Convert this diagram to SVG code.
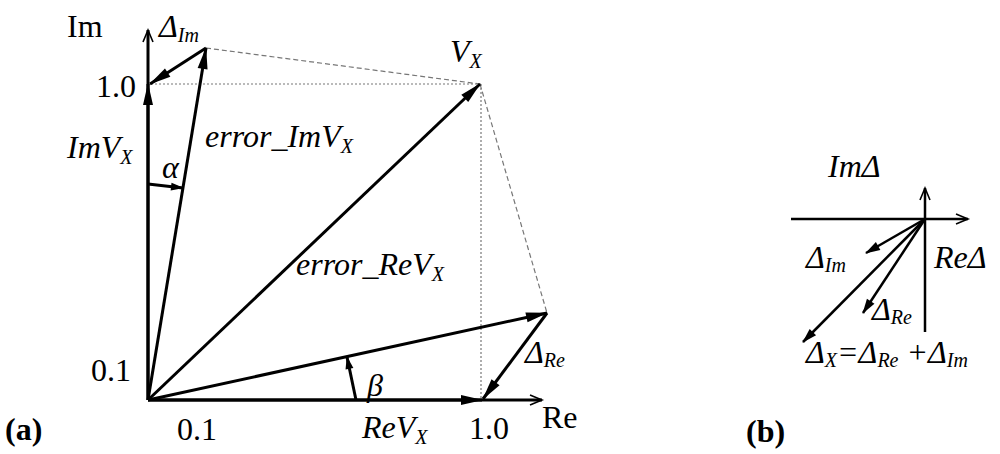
<svg xmlns="http://www.w3.org/2000/svg" width="1000" height="454" viewBox="0 0 1000 454">
<style>
.v{stroke:#000;stroke-width:3;fill:none}
.vb{stroke:#000;stroke-width:2.5;fill:none}
.dot{stroke:#777;stroke-width:1.2;stroke-dasharray:2 2;fill:none}
.dash{stroke:#777;stroke-width:1.2;stroke-dasharray:5 3;fill:none}
</style>
<defs>
<marker id="ah" markerUnits="userSpaceOnUse" markerWidth="24" markerHeight="12" refX="21" refY="5" orient="auto" overflow="visible"><path d="M0,0 L22,5 L0,10 z" fill="#000"/></marker>
<marker id="ahs" markerUnits="userSpaceOnUse" markerWidth="14" markerHeight="10" refX="12" refY="4" orient="auto" overflow="visible"><path d="M0,0 L13,4 L0,8 z" fill="#000"/></marker>
<marker id="ahb" markerUnits="userSpaceOnUse" markerWidth="16" markerHeight="10" refX="14" refY="4.5" orient="auto" overflow="visible"><path d="M0,0 L15,4.5 L0,9 z" fill="#000"/></marker>
<marker id="op" markerUnits="userSpaceOnUse" markerWidth="14" markerHeight="12" refX="12" refY="5" orient="auto" overflow="visible"><path d="M0,0 L12,5 L0,10" fill="none" stroke="#000" stroke-width="1.6"/></marker>
</defs>

<g id="guides">
<line class="dot" x1="151" y1="84" x2="480" y2="84"/>
<line class="dot" x1="481" y1="84" x2="481" y2="400"/>
<line class="dash" x1="206" y1="48" x2="480" y2="84"/>
<line class="dash" x1="480" y1="84" x2="547" y2="313"/>
</g>

<g id="connectors">
<line id="im-axis" class="v" x1="148" y1="400" x2="148" y2="30" marker-end="url(#op)"/>
<line id="re-axis" class="v" x1="148" y1="400" x2="542" y2="400" marker-end="url(#op)"/>
<line id="imvx" class="v" x1="148" y1="400" x2="148" y2="84" marker-end="url(#ah)"/>
<line id="revx" class="v" x1="148" y1="400" x2="482" y2="400" marker-end="url(#ah)"/>
<line id="delta-im" class="v" x1="206" y1="48" x2="150" y2="84" marker-end="url(#ah)"/>
<line id="err-im" class="v" x1="148" y1="400" x2="206" y2="48" marker-end="url(#ah)"/>
<line id="vx" class="v" x1="148" y1="400" x2="480" y2="84" marker-end="url(#ah)"/>
<line id="err-re" class="v" x1="148" y1="400" x2="547" y2="313" marker-end="url(#ah)"/>
<line id="delta-re" class="v" x1="547" y1="313" x2="483" y2="399" marker-end="url(#ah)"/>
<line id="alpha" class="v" x1="148" y1="184" x2="183" y2="188" marker-end="url(#ahs)"/>
<line id="beta" class="v" x1="356" y1="400" x2="347" y2="357" marker-end="url(#ahs)"/>
<line id="b-re-axis" class="vb" x1="791" y1="219" x2="968" y2="219" marker-end="url(#op)"/>
<line id="b-im-axis" class="vb" x1="925" y1="332" x2="925" y2="188" marker-end="url(#op)"/>
<line id="b-dim" class="vb" x1="925" y1="219" x2="866" y2="253" marker-end="url(#ahb)"/>
<line id="b-dre" class="vb" x1="925" y1="219" x2="863" y2="313" marker-end="url(#ahb)"/>
<line id="b-dx" class="vb" x1="925" y1="219" x2="803" y2="342" marker-end="url(#ahb)"/>
</g>

<g id="labels-a" font-family="Liberation Serif, Times New Roman, serif" font-size="32" fill="#000">
<text x="67" y="37">Im</text>
<text font-style="italic" x="159" y="37">Δ<tspan font-size="20" dy="5">Im</tspan></text>
<text x="96" y="97">1.0</text>
<text font-style="italic" x="67" y="158">ImV<tspan font-size="20" dy="6">X</tspan></text>
<text font-style="italic" x="162" y="178">α</text>
<text font-style="italic" x="205" y="147">error_ImV<tspan font-size="20" dy="6">X</tspan></text>
<text font-style="italic" x="450" y="62">V<tspan font-size="20" dy="6">X</tspan></text>
<text font-style="italic" x="296" y="275">error_ReV<tspan font-size="20" dy="6">X</tspan></text>
<text x="91" y="381">0.1</text>
<text font-style="italic" x="367" y="396">β</text>
<text font-style="italic" x="525" y="363">Δ<tspan font-size="20" dy="4">Re</tspan></text>
<text x="542" y="428">Re</text>
<text x="177" y="440">0.1</text>
<text font-style="italic" x="362" y="438">ReV<tspan font-size="20" dy="6">X</tspan></text>
<text x="469" y="439">1.0</text>
<text font-weight="bold" x="5" y="440">(a)</text>
</g>

<g id="labels-b" font-family="Liberation Serif, Times New Roman, serif" font-size="32" fill="#000">
<text font-style="italic" x="828" y="177">ImΔ</text>
<text font-style="italic" x="934" y="268">ReΔ</text>
<text font-style="italic" x="806" y="268">Δ<tspan font-size="20" dy="4">Im</tspan></text>
<text font-style="italic" x="872" y="320">Δ<tspan font-size="20" dy="4">Re</tspan></text>
<text font-style="italic" x="806" y="363">Δ<tspan font-size="20" dy="4">X</tspan><tspan dy="-4">=Δ</tspan><tspan font-size="20" dy="4">Re</tspan><tspan dy="-4"> +Δ</tspan><tspan font-size="20" dy="4">Im</tspan></text>
<text font-weight="bold" x="746" y="442">(b)</text>
</g>
</svg>
